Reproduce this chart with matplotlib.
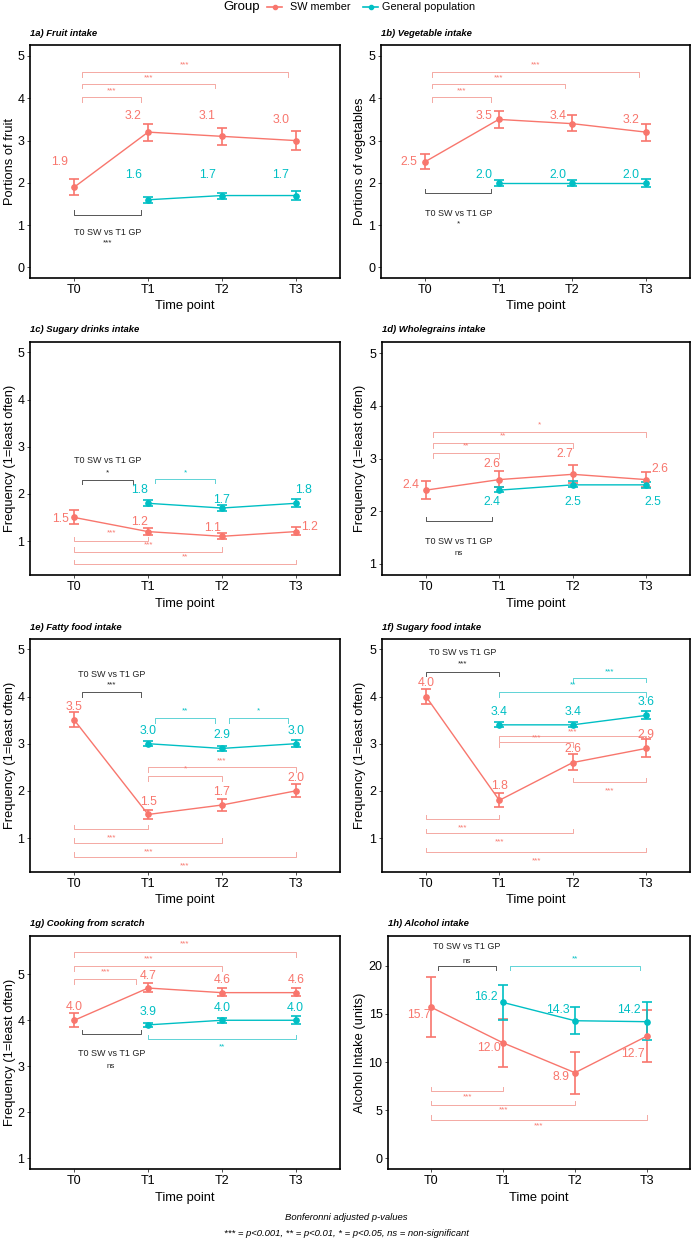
import matplotlib
matplotlib.use("Agg")
import matplotlib.pyplot as plt
from matplotlib.lines import Line2D

plt.rcParams['font.family'] = ['Liberation Sans', 'DejaVu Sans']

SW_COL = '#F8766D'
GP_COL = '#00BFC4'
SW_BR = '#F4A9A3'
GP_BR = '#5FD3D6'
X_BR = '#555555'

time_points = ['T0', 'T1', 'T2', 'T3']
gp_time_points = ['T1', 'T2', 'T3']
group_names = ['SW member', 'General population']

panel_titles = ['1a) Fruit intake', '1b) Vegetable intake', '1c) Sugary drinks intake',
                '1d) Wholegrains intake', '1e) Fatty food intake', '1f) Sugary food intake',
                '1g) Cooking from scratch', '1h) Alcohol intake']
y_labels = ['Portions of fruit', 'Portions of vegetables', 'Frequency (1=least often)',
            'Frequency (1=least often)', 'Frequency (1=least often)', 'Frequency (1=least often)',
            'Frequency (1=least often)', 'Alcohol Intake (units)']

# ---- data: means and error-bar limits ----
fruit_sw = [1.9, 3.2, 3.1, 3.0]
fruit_sw_lo = [1.72, 3.0, 2.9, 2.78]
fruit_sw_hi = [2.1, 3.4, 3.3, 3.22]
fruit_gp = [1.6, 1.7, 1.7]
fruit_gp_lo = [1.53, 1.63, 1.6]
fruit_gp_hi = [1.67, 1.77, 1.8]

veg_sw = [2.5, 3.5, 3.4, 3.2]
veg_sw_lo = [2.32, 3.3, 3.22, 3.0]
veg_sw_hi = [2.68, 3.7, 3.6, 3.4]
veg_gp = [2.0, 2.0, 2.0]
veg_gp_lo = [1.93, 1.93, 1.9]
veg_gp_hi = [2.07, 2.07, 2.1]

drinks_sw = [1.5, 1.2, 1.1, 1.2]
drinks_sw_lo = [1.37, 1.13, 1.05, 1.12]
drinks_sw_hi = [1.65, 1.28, 1.16, 1.3]
drinks_gp = [1.8, 1.7, 1.8]
drinks_gp_lo = [1.74, 1.64, 1.72]
drinks_gp_hi = [1.87, 1.77, 1.9]

grain_sw = [2.4, 2.6, 2.7, 2.6]
grain_sw_lo = [2.23, 2.45, 2.53, 2.46]
grain_sw_hi = [2.58, 2.76, 2.87, 2.75]
grain_gp = [2.4, 2.5, 2.5]
grain_gp_lo = [2.36, 2.45, 2.44]
grain_gp_hi = [2.46, 2.57, 2.56]

fatty_sw = [3.5, 1.5, 1.7, 2.0]
fatty_sw_lo = [3.35, 1.4, 1.57, 1.87]
fatty_sw_hi = [3.67, 1.6, 1.83, 2.15]
fatty_gp = [3.0, 2.9, 3.0]
fatty_gp_lo = [2.95, 2.85, 2.93]
fatty_gp_hi = [3.06, 2.96, 3.08]

sfood_sw = [4.0, 1.8, 2.6, 2.9]
sfood_sw_lo = [3.85, 1.65, 2.44, 2.72]
sfood_sw_hi = [4.16, 1.95, 2.78, 3.1]
sfood_gp = [3.4, 3.4, 3.6]
sfood_gp_lo = [3.35, 3.35, 3.52]
sfood_gp_hi = [3.46, 3.47, 3.7]

cook_sw = [4.0, 4.7, 4.6, 4.6]
cook_sw_lo = [3.85, 4.62, 4.52, 4.53]
cook_sw_hi = [4.15, 4.8, 4.7, 4.7]
cook_gp = [3.9, 4.0, 4.0]
cook_gp_lo = [3.85, 3.95, 3.92]
cook_gp_hi = [3.95, 4.06, 4.1]

alc_sw = [15.7, 12.0, 8.9, 12.7]
alc_sw_lo = [12.6, 9.5, 6.7, 10.0]
alc_sw_hi = [18.8, 14.5, 11.1, 15.4]
alc_gp = [16.2, 14.3, 14.2]
alc_gp_lo = [14.4, 12.9, 12.3]
alc_gp_hi = [18.0, 15.7, 16.2]

# ---- significance comparisons (group, from, to, label); X = T0 SW vs T1 GP ----
fruit_sig = [('SW', 'T0', 'T1', '***'), ('SW', 'T0', 'T2', '***'), ('SW', 'T0', 'T3', '***'),
             ('X', 'T0', 'T1', '***')]
veg_sig = [('SW', 'T0', 'T1', '***'), ('SW', 'T0', 'T2', '***'), ('SW', 'T0', 'T3', '***'),
           ('X', 'T0', 'T1', '*')]
drinks_sig = [('X', 'T0', 'T1', '*'), ('GP', 'T1', 'T2', '*'), ('SW', 'T0', 'T1', '***'),
              ('SW', 'T0', 'T2', '***'), ('SW', 'T0', 'T3', '**')]
grain_sig = [('SW', 'T0', 'T1', '**'), ('SW', 'T0', 'T2', '**'), ('SW', 'T0', 'T3', '*'),
             ('X', 'T0', 'T1', 'ns')]
fatty_sig = [('X', 'T0', 'T1', '***'), ('GP', 'T1', 'T2', '**'), ('GP', 'T2', 'T3', '*'),
             ('SW', 'T1', 'T3', '***'), ('SW', 'T1', 'T2', '*'), ('SW', 'T0', 'T1', '***'),
             ('SW', 'T0', 'T2', '***'), ('SW', 'T0', 'T3', '***')]
sfood_sig = [('X', 'T0', 'T1', '***'), ('GP', 'T2', 'T3', '***'), ('GP', 'T1', 'T3', '**'),
             ('SW', 'T1', 'T3', '***'), ('SW', 'T1', 'T2', '***'), ('SW', 'T2', 'T3', '***'),
             ('SW', 'T0', 'T1', '***'), ('SW', 'T0', 'T2', '***'), ('SW', 'T0', 'T3', '***')]
cook_sig = [('SW', 'T0', 'T1', '***'), ('SW', 'T0', 'T2', '***'), ('SW', 'T0', 'T3', '***'),
            ('X', 'T0', 'T1', 'ns'), ('GP', 'T1', 'T3', '**')]
alc_sig = [('X', 'T0', 'T1', 'ns'), ('GP', 'T1', 'T3', '**'), ('SW', 'T0', 'T1', '***'),
           ('SW', 'T0', 'T2', '***'), ('SW', 'T0', 'T3', '***')]

# ---- layout / style (positions of annotations) ----
# bracket layout: (trim start, trim end, line y, tip direction, label y)
fruit_sig_pos = [(0.1, -0.1, 4.03, -1, 4.17), (0.1, -0.1, 4.34, -1, 4.48),
                 (0.1, -0.1, 4.62, -1, 4.79), (0, -0.1, 1.25, 1, 0.57)]
veg_sig_pos = [(0.1, -0.1, 4.03, -1, 4.17), (0.1, -0.1, 4.34, -1, 4.48),
               (0.1, -0.1, 4.62, -1, 4.79), (0, -0.1, 1.75, 1, 1.04)]
drinks_sig_pos = [(0.1, -0.2, 2.3, -1, 2.45), (0.1, -0.1, 2.32, -1, 2.45),
                  (0, 0, 1.0, 1, 1.17), (0, 0, 0.77, 1, 0.91), (0, 0, 0.51, 1, 0.66)]
grain_sig_pos = [(0.1, 0, 3.1, -1, 3.24), (0.1, 0, 3.29, -1, 3.42), (0.1, 0, 3.5, -1, 3.63),
                 (0, -0.1, 1.81, 1, 1.19)]
fatty_sig_pos = [(0.1, -0.1, 4.09, -1, 4.25), (0.1, -0.1, 3.54, -1, 3.69),
                 (0.1, -0.1, 3.54, -1, 3.69), (0, 0, 2.5, -1, 2.63), (0, 0, 2.31, -1, 2.46),
                 (0, 0, 1.19, 1, 1.0), (0, 0, 0.9, 1, 0.7), (0, 0, 0.6, 1, 0.41)]
sfood_sig_pos = [(0, 0, 4.53, -1, 4.7), (0, 0, 4.4, -1, 4.53), (0, 0, 4.09, -1, 4.25),
                 (0, 0, 3.16, -1, 3.24), (0, 0, 3.03, -1, 3.12), (0, 0, 2.18, 1, 2.01),
                 (0, 0, 1.4, 1, 1.21), (0, 0, 1.1, 1, 0.92), (0, 0, 0.7, 1, 0.51)]
cook_sig_pos = [(0, -0.16, 4.89, -1, 5.04), (0, 0, 5.17, -1, 5.34), (0, 0, 5.48, -1, 5.65),
                (0.1, -0.1, 3.70, 1, 2.99), (0, 0, 3.59, 1, 3.42)]
alc_sig_pos = [(0.1, -0.1, 20.0, -1, 20.5), (0.1, -0.1, 20.0, -1, 20.7),
               (0, 0, 7.0, 1, 6.4), (0, 0, 5.5, 1, 5.0), (0, 0, 4.0, 1, 3.4)]

# y of "T0 SW vs T1 GP" header text
header_y = [0.83, 1.27, 2.7, 1.42, 4.46, 4.93, 3.27, 22.0]

# value label offsets (dx, dy)
fruit_lab = ([(-0.2, 0.6), (-0.2, 0.38), (-0.2, 0.48), (-0.2, 0.49)],
             [(-0.2, 0.59), (-0.2, 0.49), (-0.2, 0.49)])
veg_lab = ([(-0.22, 0.0), (-0.2, 0.08), (-0.2, 0.18), (-0.2, 0.29)],
           [(-0.2, 0.19), (-0.2, 0.19), (-0.2, 0.19)])
drinks_lab = ([(-0.18, -0.03), (-0.11, 0.2), (-0.12, 0.18), (0.19, 0.1)],
              [(-0.11, 0.28), (0.0, 0.17), (0.1, 0.28)])
grain_lab = ([(-0.2, 0.1), (-0.1, 0.29), (-0.1, 0.38), (0.19, 0.2)],
             [(-0.1, -0.23), (0.0, -0.33), (0.1, -0.33)])
fatty_lab = ([(0, 0.27), (0, 0.26), (0, 0.27), (0, 0.27)], [(0, 0.28), (0, 0.28), (0, 0.28)])
sfood_lab = ([(0, 0.28), (0, 0.3), (0, 0.28), (0, 0.28)], [(0, 0.28), (0, 0.28), (0, 0.28)])
cook_lab = ([(0, 0.29), (0, 0.26), (0, 0.27), (0, 0.27)], [(0, 0.28), (0, 0.27), (0, 0.27)])
alc_lab = ([(-0.17, -0.8), (-0.2, -0.5), (-0.2, -0.4), (-0.2, -1.9)],
           [(-0.24, 0.6), (-0.24, 1.1), (-0.25, 1.2)])

ylims = [(-0.25, 5.26), (-0.25, 5.26), (0.28, 5.22), (0.79, 5.21),
         (0.28, 5.22), (0.28, 5.22), (0.77, 5.83), (-1.1, 23.1)]
yticks = [[0, 1, 2, 3, 4, 5], [0, 1, 2, 3, 4, 5], [1, 2, 3, 4, 5], [1, 2, 3, 4, 5],
          [1, 2, 3, 4, 5], [1, 2, 3, 4, 5], [1, 2, 3, 4, 5], [0, 5, 10, 15, 20]]

# panel boxes in pixels: (left, top, right, bottom)
boxes = [(30, 45, 340, 278), (381, 45, 690, 278),
         (30, 342, 340, 575), (382, 342, 690, 575),
         (30, 639, 340, 872), (382, 639, 690, 872),
         (30, 936, 340, 1169), (388, 936, 690, 1169)]

panels = [
    (fruit_sw, fruit_sw_lo, fruit_sw_hi, fruit_gp, fruit_gp_lo, fruit_gp_hi, fruit_sig, fruit_sig_pos, fruit_lab),
    (veg_sw, veg_sw_lo, veg_sw_hi, veg_gp, veg_gp_lo, veg_gp_hi, veg_sig, veg_sig_pos, veg_lab),
    (drinks_sw, drinks_sw_lo, drinks_sw_hi, drinks_gp, drinks_gp_lo, drinks_gp_hi, drinks_sig, drinks_sig_pos, drinks_lab),
    (grain_sw, grain_sw_lo, grain_sw_hi, grain_gp, grain_gp_lo, grain_gp_hi, grain_sig, grain_sig_pos, grain_lab),
    (fatty_sw, fatty_sw_lo, fatty_sw_hi, fatty_gp, fatty_gp_lo, fatty_gp_hi, fatty_sig, fatty_sig_pos, fatty_lab),
    (sfood_sw, sfood_sw_lo, sfood_sw_hi, sfood_gp, sfood_gp_lo, sfood_gp_hi, sfood_sig, sfood_sig_pos, sfood_lab),
    (cook_sw, cook_sw_lo, cook_sw_hi, cook_gp, cook_gp_lo, cook_gp_hi, cook_sig, cook_sig_pos, cook_lab),
    (alc_sw, alc_sw_lo, alc_sw_hi, alc_gp, alc_gp_lo, alc_gp_hi, alc_sig, alc_sig_pos, alc_lab),
]

W, H = 693, 1241
fig = plt.figure(figsize=(W / 100, H / 100), dpi=100)
fig.patch.set_facecolor('white')

def fx(px):
    return px / W

def fy(py):
    return 1 - py / H

tidx = {t: i for i, t in enumerate(time_points)}

for k, (sw, swlo, swhi, gp, gplo, gphi, sig, sigpos, lab) in enumerate(panels):
    l, t, r, b = boxes[k]
    ax = fig.add_axes([fx(l), fy(b), (r - l) / W, (b - t) / H])
    ax.set_xlim(-0.6, 3.6)
    ax.set_ylim(*ylims[k])
    ax.set_xticks(range(len(time_points)))
    ax.set_xticklabels(time_points)
    ax.set_yticks(yticks[k])
    ax.tick_params(axis='both', labelsize=9, length=2.5, width=0.6, pad=1.5,
                   colors='#333333', labelcolor='black')
    for s in ax.spines.values():
        s.set_linewidth(1.2)
        s.set_color('black')
    ax.set_xlabel('Time point', fontsize=9.3)
    ax.xaxis.label.set_va('center')
    ax.xaxis.set_label_coords(0.5, -28.5 / (b - t))
    ax.set_ylabel(y_labels[k], fontsize=9.3)
    ax.yaxis.label.set_va('center')
    ax.yaxis.set_label_coords(((10 if l < 100 else 360) - l) / (r - l), 0.5)

    xs_sw = [tidx[tp] for tp in time_points]
    xs_gp = [tidx[tp] for tp in gp_time_points]
    for xs, m, lo, hi, col in ((xs_sw, sw, swlo, swhi, SW_COL), (xs_gp, gp, gplo, gphi, GP_COL)):
        ax.plot(xs, m, color=col, lw=1.0, zorder=3)
        ax.errorbar(xs, m, yerr=[[mi - lo_ for mi, lo_ in zip(m, lo)], [hi_ - mi for mi, hi_ in zip(m, hi)]],
                    fmt='o', color=col, ms=3.8, capsize=3.6, elinewidth=1.2, capthick=1.2, zorder=4)

    for (xs, m, offs, col) in ((xs_sw, sw, lab[0], SW_COL), (xs_gp, gp, lab[1], GP_COL)):
        for xi, v, (dx, dy) in zip(xs, m, offs):
            ax.text(xi + dx, v + dy, f'{v:.1f}', color=col, fontsize=8.8, ha='center', va='center', zorder=5)

    y0, y1 = ylims[k]
    tip = 4.5 / (b - t) * (y1 - y0)
    for (grp, a_, b_, txt), (d1, d2, yl, tdir, ly) in zip(sig, sigpos):
        col = {'SW': SW_BR, 'GP': GP_BR, 'X': X_BR}[grp]
        tcol = {'SW': SW_COL, 'GP': GP_COL, 'X': '#222222'}[grp]
        x1 = tidx[a_] + d1
        x2 = tidx[b_] + d2
        yt = yl + tdir * tip
        ax.plot([x1, x1, x2, x2], [yt, yl, yl, yt], color=col, lw=0.7, zorder=2)
        ax.text((x1 + x2) / 2, ly, txt, color=tcol, fontsize=5.8, ha='center', va='center', zorder=5)
        if grp == 'X':
            ax.text((x1 + x2) / 2, header_y[k], 'T0 SW vs T1 GP', color='#222222', fontsize=6.5,
                    ha='center', va='center', zorder=5)

    fig.text(fx(l), fy(t - 12), panel_titles[k], fontsize=6.8, fontweight='bold',
             fontstyle='italic', ha='left', va='center')

# legend
ly = fy(7)
fig.text(fx(223), ly, 'Group', fontsize=9.5, ha='left', va='center')
for (x0, x1, col, name, tx) in ((267, 282, SW_COL, group_names[0], 290),
                                (363, 378, GP_COL, group_names[1], 382)):
    fig.add_artist(Line2D([fx(x0), fx(x1)], [ly, ly], color=col, lw=1.2, transform=fig.transFigure))
    fig.add_artist(Line2D([fx((x0 + x1) / 2)], [ly], color=col, marker='o', ms=3,
                          transform=fig.transFigure))
    fig.text(fx(tx), ly, name, fontsize=7.8, ha='left', va='center')

fig.text(0.5, fy(1218), 'Bonferonni adjusted p-values', fontsize=6.8, fontstyle='italic',
         ha='center', va='center')
fig.text(0.5, fy(1233), '*** = p<0.001, ** = p<0.01, * = p<0.05, ns = non-significant',
         fontsize=6.8, fontstyle='italic', ha='center', va='center')

fig.savefig('out.png', dpi=100, facecolor='white')
